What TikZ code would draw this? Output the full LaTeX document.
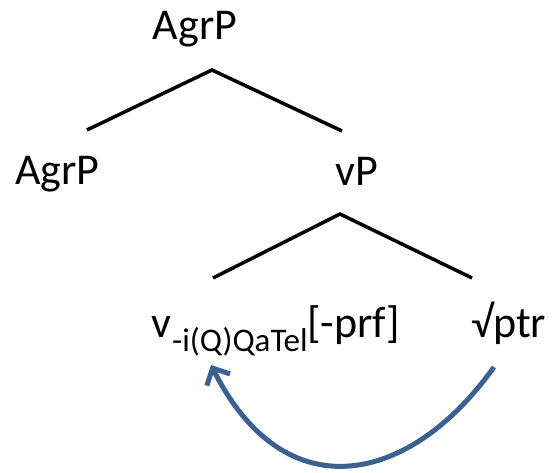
\documentclass[tikz,border=0pt]{standalone}
\usepackage{fontspec}
\setmainfont{Carlito}
\usetikzlibrary{arrows.meta}
\definecolor{arrowblue}{HTML}{3A6191}
\tikzset{
  lbl/.style={inner sep=0pt, font=\fontsize{44}{50}\selectfont},
  sublbl/.style={inner sep=0pt, font=\fontsize{33}{35}\selectfont},
  branch/.style={line width=3.5pt, black},
  movearrow/.style={line width=5pt, arrowblue, -{Straight Barb[length=13pt,width=26pt]}}
}
\begin{document}
\begin{tikzpicture}[x=1pt,y=-1pt]
\useasboundingbox (0,0) rectangle (555,473);
\node[lbl, anchor=base] (top) at (195,40) {AgrP};
\node[lbl, anchor=base west] (spec) at (15,185) {AgrP};
\node[lbl, anchor=base] (vp) at (357,186) {vP};
\node[lbl, anchor=base west] (vhead) at (151,338) {v};
\node[sublbl, anchor=base west] (vsub) at (172,352) {-i(Q)QaTel};
\node[lbl, anchor=base west] (vfeat) at (307,338) {[-prf]};
\node[lbl, anchor=base west] (root) at (471,338) {√ptr};
\coordinate (topapex) at (212,70);
\coordinate (specend) at (87,130);
\coordinate (vpend) at (342,131);
\coordinate (vpapex) at (340,214);
\coordinate (vheadend) at (213,278);
\coordinate (rootend) at (472,278);
\coordinate (mvfrom) at (494,367);
\coordinate (mvto) at (211,365);
\draw[branch] (specend) -- (topapex) -- (vpend);
\draw[branch] (vheadend) -- (vpapex) -- (rootend);
\draw[movearrow] (mvfrom) .. controls (410,485) and (285,512) .. (mvto);
\end{tikzpicture}
\end{document}
